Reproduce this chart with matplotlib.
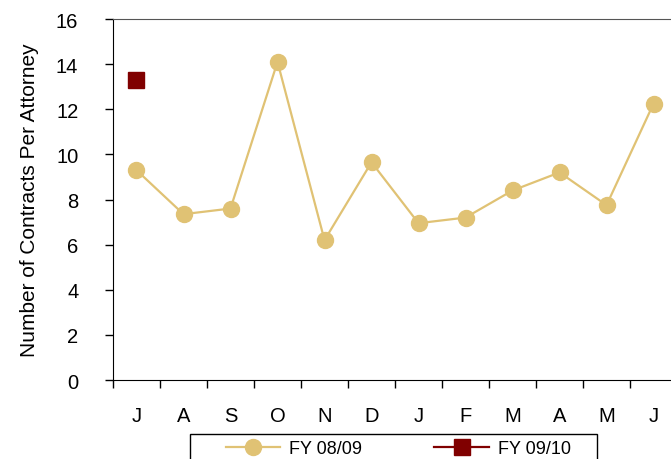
import numpy as np
import matplotlib.pyplot as plt
from matplotlib.patches import Rectangle

plt.rcParams['font.family'] = ['Liberation Sans', 'DejaVu Sans']

months = ['J', 'A', 'S', 'O', 'N', 'D', 'J', 'F', 'M', 'A', 'M', 'J']
fy0809 = [9.3, 7.35, 7.6, 14.1, 6.2, 9.65, 6.95, 7.2, 8.4, 9.2, 7.75, 12.25]
fy0910 = [13.3]

gold = '#E0C274'
red = '#800000'

W, H = 671, 460
fig = plt.figure(figsize=(W / 100, H / 100), dpi=100)
ax = fig.add_axes([0.1684, 0.1717, 0.8406, 0.7848])

x = np.arange(len(months)) + 0.5
ax.plot(x, fy0809, color=gold, lw=1.6, marker='o', ms=11.5, label='FY 08/09')
ax.plot(x[:len(fy0910)], fy0910, color=red, lw=1.6, marker='s', ms=11, label='FY 09/10')

ax.set_xlim(0, 12)
ax.set_ylim(0, 16)
ax.set_yticks(range(0, 17, 2))
ax.set_xticks(np.arange(13))
ax.set_xticklabels([])
ax.set_xticks(x, minor=True)
ax.set_xticklabels(months, minor=True, fontsize=14.5)
ax.tick_params(axis='x', which='minor', length=0, pad=19)
ax.tick_params(axis='x', which='major', length=6, width=1, color='black')
ax.tick_params(axis='y', length=6, width=1, labelsize=14.5, pad=19)

ax.spines['right'].set_visible(False)
ax.spines['top'].set_color('#555555')
ax.spines['left'].set_color('black')
ax.spines['bottom'].set_color('black')

ax.set_ylabel('Number of Contracts Per Attorney', fontsize=15, labelpad=12)

# legend without its own frame, box drawn separately (wider than the entries)
leg = fig.legend(loc='upper left', bbox_to_anchor=(226 / W, 1 - 441 / H), bbox_transform=fig.transFigure,
                 ncol=2, frameon=False, fontsize=13, handlelength=3.0,
                 handletextpad=0.5, columnspacing=4.0, borderpad=0, borderaxespad=0)
box = Rectangle((190 / W, 1 - 475 / H), 407 / W, 40 / H, transform=fig.transFigure,
                fill=False, edgecolor='black', lw=1, clip_on=False)
fig.add_artist(box)

fig.savefig('out.png', dpi=100)
